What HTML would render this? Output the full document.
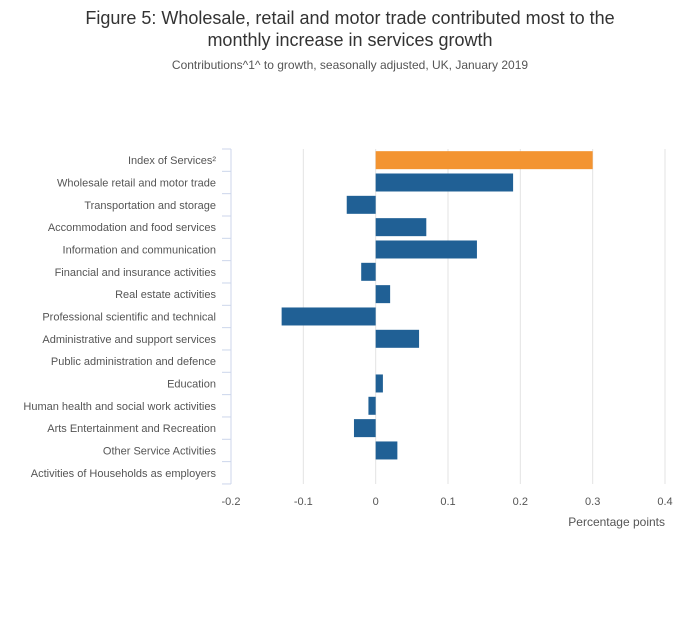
<!DOCTYPE html>
<html><head><meta charset="utf-8"><style>
body{margin:0;background:#fff;font-family:"Liberation Sans",sans-serif;}
svg text{font-family:"Liberation Sans",sans-serif;}
</style></head><body>
<svg width="700" height="635">
<text x="350" y="24" text-anchor="middle" font-size="18" fill="#333">Figure 5: Wholesale, retail and motor trade contributed most to the</text>
<text x="350" y="46" text-anchor="middle" font-size="18" fill="#333">monthly increase in services growth</text>
<text x="350" y="69" text-anchor="middle" font-size="12" fill="#555">Contributions^1^ to growth, seasonally adjusted, UK, January 2019</text>
<g id="grid"></g><g id="bars"></g><g id="yaxis"></g><g id="xaxis"></g>
<text x="665" y="526" text-anchor="end" font-size="12" fill="#555">Percentage points</text>
</svg>
<script>
const categories=["Index of Services²","Wholesale retail and motor trade","Transportation and storage","Accommodation and food services","Information and communication","Financial and insurance activities","Real estate activities","Professional scientific and technical","Administrative and support services","Public administration and defence","Education","Human health and social work activities","Arts Entertainment and Recreation","Other Service Activities","Activities of Households as employers"];
const values=[0.3,0.19,-0.04,0.07,0.14,-0.02,0.02,-0.13,0.06,0,0.01,-0.01,-0.03,0.03,0];
const ticks=[-0.2,-0.1,0,0.1,0.2,0.3,0.4];
const tickLabels=["-0.2","-0.1","0","0.1","0.2","0.3","0.4"];
const NS="http://www.w3.org/2000/svg";
const x0=231,x1=665,dmin=-0.2,dmax=0.4,plotTop=149,rowH=22.33;
const xs=v=>x0+(v-dmin)/(dmax-dmin)*(x1-x0);
const plotBottom=plotTop+rowH*categories.length;
function mk(tag,attrs,parent){const e=document.createElementNS(NS,tag);for(const k in attrs)e.setAttribute(k,attrs[k]);document.getElementById(parent).appendChild(e);return e;}
ticks.forEach((t,i)=>{
  if(t!==dmin){const g=mk('line',{x1:xs(t),x2:xs(t),y1:plotTop,y2:plotBottom,stroke:'#e3e3e3','stroke-width':1},'grid');
  
  }
  const tx=mk('text',{x:xs(t),y:505,'text-anchor':'middle','font-size':11,fill:'#555'},'xaxis');
  tx.textContent=tickLabels[i];
  
  
});
const ax=mk('line',{x1:x0,x2:x0,y1:plotTop,y2:plotBottom,stroke:'#ccd6eb','stroke-width':1},'yaxis');


for(let i=0;i<=categories.length;i++){
  const tk=mk('line',{x1:x0-9,x2:x0,y1:plotTop+i*rowH,y2:plotTop+i*rowH,stroke:'#ccd6eb','stroke-width':1},'yaxis');
  
  
}
categories.forEach((c,i)=>{
  const cy=plotTop+(i+0.5)*rowH;
  const lb=mk('text',{x:216,y:cy+4,'text-anchor':'end','font-size':11,fill:'#555'},'yaxis');
  lb.textContent=c;
  
  
  const v=values[i];
  const a=xs(Math.min(0,v)),b=xs(Math.max(0,v));
  if(b-a>0){
    const r=mk('rect',{x:a,y:cy-9,width:b-a,height:18,fill:i===0?'#f39431':'#206095'},'bars');
    
    
  }
});
</script>
</body></html>
